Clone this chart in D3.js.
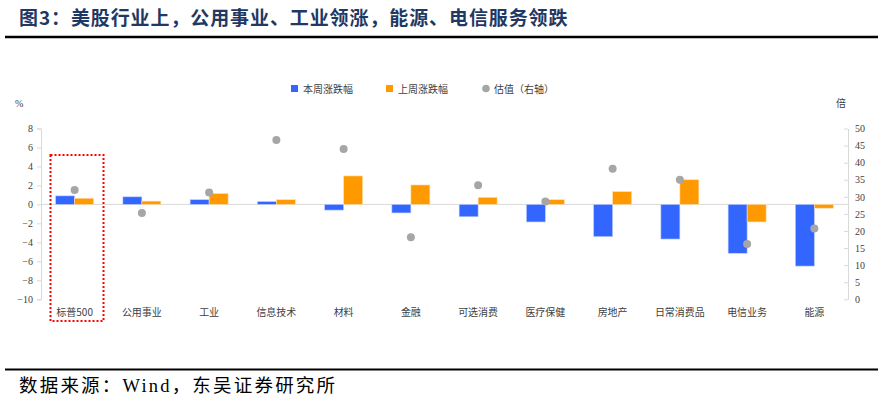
<!DOCTYPE html>
<html><head><meta charset="utf-8">
<script src="https://cdn.jsdelivr.net/npm/d3@7"></script>
<style>body{margin:0;background:#fff}svg{display:block}</style>
</head><body>
<svg id="c" width="883" height="401"></svg>
<script>
const categories = ["标普500","公用事业","工业","信息技术","材料","金融","可选消费","医疗保健","房地产","日常消费品","电信业务","能源"];
const thisWeek = [0.9, 0.8, 0.5, 0.3, -0.6, -0.9, -1.3, -1.85, -3.4, -3.65, -5.15, -6.5];
const lastWeek = [0.65, 0.35, 1.15, 0.5, 3.0, 2.05, 0.75, 0.5, 1.35, 2.6, -1.85, -0.4];
const valuation = [32.0, 25.3, 31.3, 46.6, 44.0, 18.2, 33.4, 28.6, 38.2, 35.0, 16.2, 20.7];
const leftTicks = [8,6,4,2,0,-2,-4,-6,-8,-10];
const rightTicks = [50,45,40,35,30,25,20,15,10,5,0];
const legendLabels = ["本周涨跌幅","上周涨跌幅","估值（右轴）"];

const svg = d3.select("#c");
const serif = "'Liberation Serif','Noto Sans CJK SC',serif";
const cjk = "'Noto Sans CJK SC','Liberation Serif',sans-serif";
const blue = "#3366FF", orange = "#FF9900", gray = "#A6A6A6";

const xL = 41, xR = 848, yT = 128.5, yB = 299.3;
const x = d3.scaleBand().domain(categories).range([xL, xR]).padding(0);
const yl = d3.scaleLinear().domain([-10, 8]).range([yB, yT]);
const yr = d3.scaleLinear().domain([0, 50]).range([yB, yT]);

// title
svg.append("text").attr("x", 19).attr("y", 25).text("图3：美股行业上，公用事业、工业领涨，能源、电信服务领跌")
  .attr("font-family", cjk).attr("font-weight", "bold").attr("font-size", 19).attr("letter-spacing", 0.9).attr("fill", "#1F3864");
svg.append("line").attr("x1", 5).attr("x2", 878).attr("y1", 37).attr("y2", 37).attr("stroke", "#000").attr("stroke-width", 2.5);
// footer
svg.append("line").attr("x1", 5).attr("x2", 878).attr("y1", 369.5).attr("y2", 369.5).attr("stroke", "#000").attr("stroke-width", 2);
svg.append("text").attr("x", 19).attr("y", 392).text("数据来源：Wind，东吴证券研究所")
  .attr("font-family", serif).attr("font-size", 18.5).attr("letter-spacing", 2.2).attr("fill", "#000");

// unit labels
svg.append("text").attr("x", 15).attr("y", 107).text("%").attr("font-family", serif).attr("font-size", 10).attr("fill", "#404040");
svg.append("text").attr("x", 836).attr("y", 107).text("倍").attr("font-family", cjk).attr("font-size", 10).attr("fill", "#404040");

// left axis
const gl = svg.append("g").attr("transform", `translate(${xL},0)`)
  .call(d3.axisLeft(yl).tickValues(leftTicks).tickSize(4).tickPadding(4));
gl.select(".domain").attr("stroke", "#D9D9D9");
gl.selectAll(".tick line").attr("stroke", "#D9D9D9");
gl.selectAll(".tick text").attr("font-family", serif).attr("font-size", 10).attr("fill", "#404040");
// right axis
const gr = svg.append("g").attr("transform", `translate(${xR},0)`)
  .call(d3.axisRight(yr).tickValues(rightTicks).tickSize(0).tickPadding(7));
gr.select(".domain").attr("stroke", "#D9D9D9");
gr.selectAll(".tick line").attr("x1", -4).attr("x2", 0).attr("stroke", "#D9D9D9");
gr.selectAll(".tick text").attr("font-family", serif).attr("font-size", 10).attr("fill", "#404040");

// zero line
svg.append("line").attr("x1", xL).attr("x2", xR).attr("y1", yl(0)).attr("y2", yl(0)).attr("stroke", "#D9D9D9").attr("stroke-width", 1);

const bw = 19;
const cx = d => x(d) + x.bandwidth() / 2;
svg.append("g").selectAll("rect").data(categories).join("rect")
  .attr("x", d => cx(d) - bw).attr("width", bw)
  .attr("y", (d, i) => yl(Math.max(0, thisWeek[i])))
  .attr("height", (d, i) => Math.abs(yl(thisWeek[i]) - yl(0)))
  .attr("fill", blue).attr("stroke", "#BFCFFF").attr("stroke-width", 0.6);
svg.append("g").selectAll("rect").data(categories).join("rect")
  .attr("x", d => cx(d)).attr("width", bw)
  .attr("y", (d, i) => yl(Math.max(0, lastWeek[i])))
  .attr("height", (d, i) => Math.abs(yl(lastWeek[i]) - yl(0)))
  .attr("fill", orange).attr("stroke", "#FFE0B0").attr("stroke-width", 0.6);
svg.append("g").selectAll("circle").data(categories).join("circle")
  .attr("cx", d => cx(d)).attr("cy", (d, i) => yr(valuation[i])).attr("r", 4)
  .attr("fill", gray);

// x labels
svg.append("g").selectAll("text").data(categories).join("text")
  .attr("x", d => cx(d)).attr("y", 316).attr("text-anchor", "middle")
  .text(d => d).attr("font-family", cjk).attr("font-size", 10).attr("fill", "#404040");

// red dotted box
svg.append("rect").attr("x", x(categories[0]) + 9.5).attr("y", 155).attr("width", 53).attr("height", 166)
  .attr("fill", "none").attr("stroke", "#FF0000").attr("stroke-width", 2).attr("stroke-dasharray", "2,2");

// legend
const lg = svg.append("g");
const lx = [291, 386, 482];
lg.append("rect").attr("x", lx[0]).attr("y", 85).attr("width", 7).attr("height", 7).attr("fill", blue);
lg.append("rect").attr("x", lx[1]).attr("y", 85).attr("width", 7).attr("height", 7).attr("fill", orange);
lg.append("circle").attr("cx", lx[2] + 4).attr("cy", 88.5).attr("r", 3.8).attr("fill", gray);
legendLabels.forEach((t, i) => {
  lg.append("text").attr("x", lx[i] + 12).attr("y", 92.5).text(t)
    .attr("font-family", cjk).attr("font-size", 10).attr("fill", "#404040");
});
</script>
</body></html>
